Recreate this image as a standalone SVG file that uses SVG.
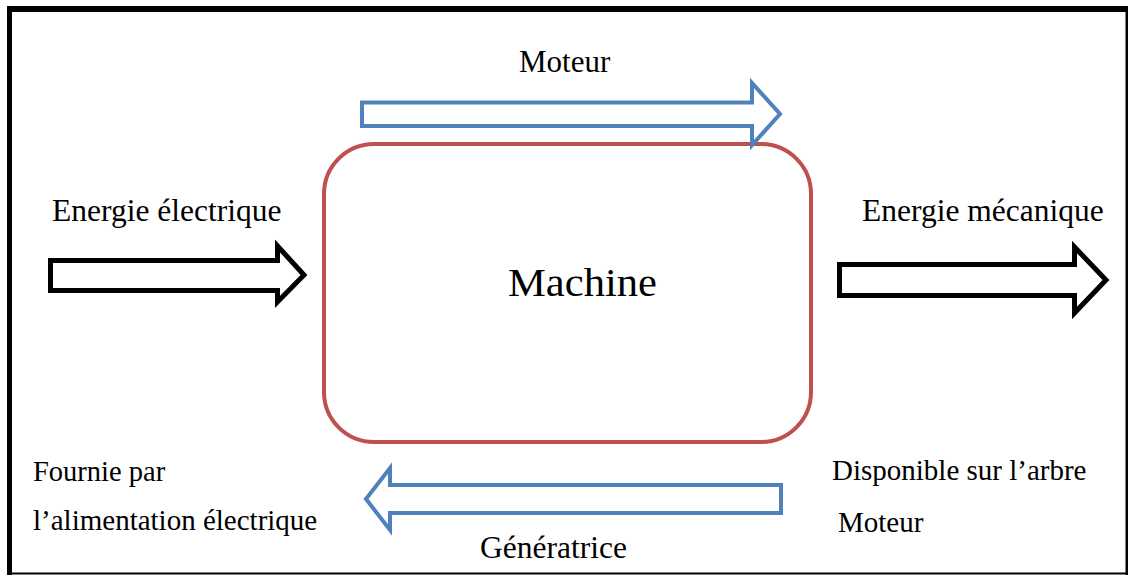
<svg xmlns="http://www.w3.org/2000/svg" width="1128" height="575" viewBox="0 0 1128 575">
<style>
.t{font-family:"Liberation Serif","Times New Roman",serif;fill:#000}
.blue{fill:#fff;stroke:#4f81bd;stroke-width:4;stroke-linejoin:miter}
.black{fill:#fff;stroke:#000;stroke-width:5;stroke-linejoin:miter}
</style>
<rect width="1128" height="575" fill="#fff"/>
<g id="frame" stroke="#000" fill="none">
<line x1="9.5" y1="6" x2="9.5" y2="575" stroke-width="5"/>
<line x1="7" y1="9" x2="1128" y2="9" stroke-width="6"/>
<line x1="1127" y1="6" x2="1127" y2="575" stroke-width="3"/>
<line x1="7" y1="573.5" x2="1128" y2="573.5" stroke-width="2"/>
</g>
<g id="machine">
<rect x="324" y="144" width="487" height="298" rx="50" ry="50" fill="#fff" stroke="#c0504d" stroke-width="4"/>
<text class="t" x="508" y="296" font-size="39" textLength="149" lengthAdjust="spacingAndGlyphs">Machine</text>
</g>
<g id="connectors">
<path id="arrow-moteur" class="blue" d="M362,102.5 H752 V83 L780,114 L752,145 V126 H362 Z"/>
<path id="arrow-generatrice" class="blue" d="M781,485 H390 V468 L366,499 L390,530 V513 H781 Z"/>
<path id="arrow-elec" class="black" d="M50.5,260.5 H277.5 V246 L304,275 L277.5,302 V290.5 H50.5 Z"/>
<path id="arrow-meca" class="black" d="M839.5,264.5 H1074.5 V247 L1106,280 L1074.5,313 V295.5 H839.5 Z"/>
</g>
<g id="labels">
<text class="t" x="519" y="72" font-size="31">Moteur</text>
<text class="t" x="52" y="221" font-size="31.5">Energie électrique</text>
<text class="t" x="862" y="221" font-size="31.5">Energie mécanique</text>
<text class="t" x="33" y="481" font-size="28.5">Fournie par</text>
<text class="t" x="33" y="530" font-size="29">l’alimentation électrique</text>
<text class="t" x="832" y="480" font-size="29">Disponible sur l’arbre</text>
<text class="t" x="838" y="532" font-size="29">Moteur</text>
<text class="t" x="480" y="558" font-size="31.5">Génératrice</text>
</g>
</svg>
